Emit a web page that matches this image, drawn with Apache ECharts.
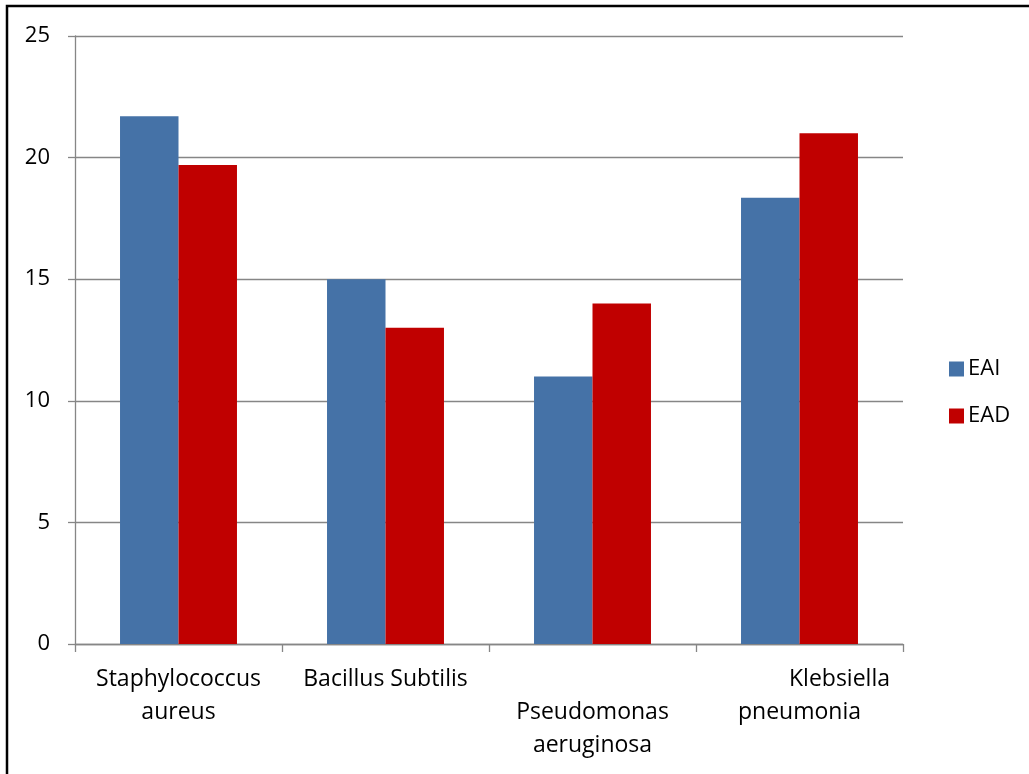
<!DOCTYPE html>
<html>
<head>
<meta charset="utf-8">
<script src="https://cdn.jsdelivr.net/npm/echarts@6/dist/echarts.min.js"></script>
<style>
  html, body { margin: 0; padding: 0; background: #fff; }
  #chart { width: 1029px; height: 774px; }
</style>
</head>
<body>
<div id="chart"></div>
<script>
// Bacterial strains on the category axis
const categories = ['Staphylococcus aureus', 'Bacillus Subtilis', 'Pseudomonas aeruginosa', 'Klebsiella pneumonia'];
// Activity values per extract
const eaiValues = [21.7, 15, 11, 18.35];
const eadValues = [19.7, 13, 14, 21];
// Value axis range
const yMin = 0;
const yMax = 25;
const yStep = 5;

// Wrapped category labels, staggered the way the spreadsheet lays them out
const labelText = {
  'Staphylococcus aureus': 'Staphylococcus\naureus',
  'Bacillus Subtilis': 'Bacillus Subtilis',
  'Pseudomonas aeruginosa': '\nPseudomonas\naeruginosa',
  'Klebsiella pneumonia': '{k|Klebsiella}\npneumonia'
};

const FONT = '"Open Sans", Lato, sans-serif';
const FS = 22;
const XFS = 23;
const AXIS_GREY = '#868686';

const chart = echarts.init(document.getElementById('chart'));
chart.setOption({
  animation: false,
  backgroundColor: '#fff',
  textStyle: { fontFamily: FONT },
  graphic: [{
    type: 'rect',
    shape: { x: 7, y: 6, width: 1100, height: 900 },
    style: { fill: 'none', stroke: '#000', lineWidth: 2.5 },
    silent: true,
    z: 100
  }],
  grid: { left: 75, right: 126, top: 36, bottom: 130 },
  legend: {
    orient: 'vertical',
    left: 944,
    top: 353,
    itemWidth: 15,
    itemHeight: 15,
    itemGap: 25,
    icon: 'rect',
    textStyle: { fontFamily: FONT, fontSize: FS, color: '#000', padding: [0, 0, 0, -1] },
    data: ['EAI', 'EAD']
  },
  xAxis: {
    type: 'category',
    data: categories,
    axisLine: { lineStyle: { color: AXIS_GREY, width: 1.3 } },
    axisTick: { show: true, length: 8, alignWithLabel: false, lineStyle: { color: AXIS_GREY, width: 1.3 } },
    axisLabel: {
      interval: 0,
      margin: 19,
      color: '#000',
      fontFamily: FONT,
      fontSize: XFS,
      lineHeight: 33,
      align: 'center',
      formatter: v => labelText[v],
      rich: {
        k: { fontFamily: FONT, fontSize: XFS, color: '#000', lineHeight: 33, padding: [0, 0, 0, 80] }
      }
    }
  },
  yAxis: {
    type: 'value',
    min: yMin,
    max: yMax,
    interval: yStep,
    axisLine: { show: true, lineStyle: { color: AXIS_GREY, width: 1.3 } },
    axisTick: { show: true, length: 7, lineStyle: { color: AXIS_GREY, width: 1.3 } },
    splitLine: { show: true, lineStyle: { color: AXIS_GREY, width: 1.3 } },
    axisLabel: { color: '#000', fontFamily: FONT, fontSize: FS, margin: 25 }
  },
  series: [
    {
      name: 'EAI',
      type: 'bar',
      data: eaiValues,
      barGap: '0%',
      barCategoryGap: '43.5%',
      itemStyle: { color: '#4572A7' }
    },
    {
      name: 'EAD',
      type: 'bar',
      data: eadValues,
      barGap: '0%',
      barCategoryGap: '43.5%',
      itemStyle: { color: '#C00000' }
    }
  ]
});
</script>
</body>
</html>
